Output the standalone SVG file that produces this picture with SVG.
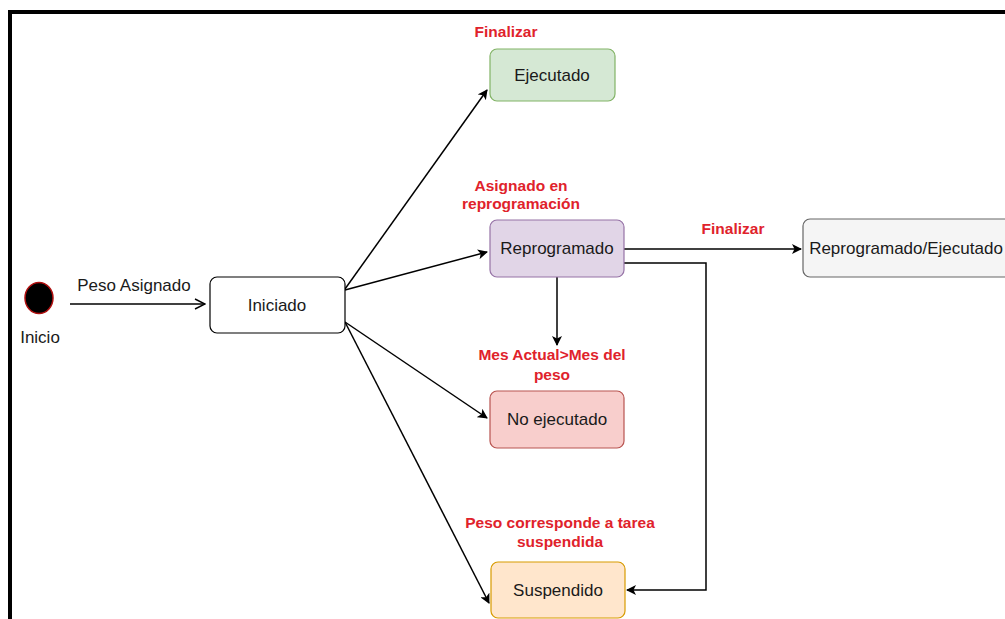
<svg xmlns="http://www.w3.org/2000/svg" width="1005" height="619" viewBox="0 0 1005 619">
<style>
.t{font-family:"Liberation Sans",Arial,sans-serif;font-size:17px;fill:#1a1a1a;text-anchor:middle}
.r{font-family:"Liberation Sans",Arial,sans-serif;font-size:15.5px;font-weight:bold;fill:#e0222b;text-anchor:middle}
.box{stroke-width:1.2}
.c{fill:none;stroke:#000;stroke-width:1.5}
</style>
<defs>
<marker id="a" viewBox="0 0 10 10" refX="9" refY="5" markerWidth="10" markerHeight="10" markerUnits="userSpaceOnUse" orient="auto">
<path d="M0,0 L10,5 L0,10 L2.5,5 Z" fill="#000"/>
</marker>
<marker id="o" viewBox="0 0 12 12" refX="11" refY="6" markerWidth="12" markerHeight="12" markerUnits="userSpaceOnUse" orient="auto">
<path d="M1,1 L11,6 L1,11" fill="none" stroke="#000" stroke-width="1.4"/>
</marker>
</defs>
<rect width="1005" height="619" fill="#fff"/>
<path d="M10,619 L10,12 L1005,12" fill="none" stroke="#000" stroke-width="4"/>

<g id="connectors">
<path class="c" d="M70,304 L205,304" marker-end="url(#o)"/>
<path class="c" d="M345,289 L487,90" marker-end="url(#a)"/>
<path class="c" d="M345,290 L487,252" marker-end="url(#a)"/>
<path class="c" d="M345,322 L487,418" marker-end="url(#a)"/>
<path class="c" d="M345,322 L489,603" marker-end="url(#a)"/>
<path class="c" d="M624,249 L801,249" marker-end="url(#a)"/>
<path class="c" d="M557,277 L557,345" marker-end="url(#a)"/>
<path class="c" d="M624,263 L706,263 L706,590 L627,590" marker-end="url(#a)"/>
<text class="t" x="134" y="291">Peso Asignado</text>
<text class="r" x="506" y="37">Finalizar</text>
<text class="r" x="521" y="191">Asignado en</text>
<text class="r" x="521" y="209">reprogramación</text>
<text class="r" x="733" y="234">Finalizar</text>
<text class="r" x="552" y="360">Mes Actual&gt;Mes del</text>
<text class="r" x="552" y="380">peso</text>
<text class="r" x="560" y="528">Peso corresponde a tarea</text>
<text class="r" x="560" y="547">suspendida</text>
</g>

<g id="inicio">
<ellipse cx="39" cy="298" rx="14" ry="15.5" fill="#000" stroke="#b01010" stroke-width="1.5"/>
<text class="t" x="40" y="343">Inicio</text>
</g>
<g id="iniciado">
<rect class="box" x="210" y="277" width="135" height="56" rx="7" fill="#fff" stroke="#000"/>
<text class="t" x="277" y="311">Iniciado</text>
</g>
<g id="ejecutado">
<rect class="box" x="490" y="49" width="125" height="52" rx="7" fill="#d5e8d4" stroke="#82b366"/>
<text class="t" x="552" y="81">Ejecutado</text>
</g>
<g id="reprogramado">
<rect class="box" x="490" y="220" width="134" height="57" rx="7" fill="#e1d5e7" stroke="#9673a6"/>
<text class="t" x="557" y="254">Reprogramado</text>
</g>
<g id="reprogramado-ejecutado">
<rect class="box" x="803" y="219" width="215" height="58" rx="7" fill="#f5f5f5" stroke="#666"/>
<text class="t" x="906" y="254">Reprogramado/Ejecutado</text>
</g>
<g id="no-ejecutado">
<rect class="box" x="490" y="391" width="134" height="57" rx="7" fill="#f8cecc" stroke="#b85450"/>
<text class="t" x="557" y="425">No ejecutado</text>
</g>
<g id="suspendido">
<rect class="box" x="491" y="562" width="134" height="56" rx="7" fill="#ffe6cc" stroke="#d79b00"/>
<text class="t" x="558" y="596">Suspendido</text>
</g>
</svg>
